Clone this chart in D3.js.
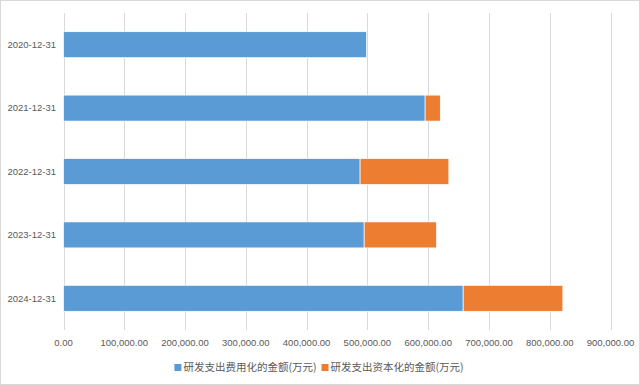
<!DOCTYPE html>
<html>
<head>
<meta charset="utf-8">
<script src="https://cdn.jsdelivr.net/npm/d3@7"></script>
<style>
body { margin: 0; background: #fff; }
svg { display: block; }
</style>
</head>
<body>
<script>
var width = 640, height = 385;

// data
var dates = ["2020-12-31", "2021-12-31", "2022-12-31", "2023-12-31", "2024-12-31"];
var expensed = [498700, 595000, 488000, 494700, 657600];
var capitalized = [0, 25000, 146000, 119000, 164000];
var seriesNames = ["研发支出费用化的金额(万元)", "研发支出资本化的金额(万元)"];
var xTicks = [0, 100000, 200000, 300000, 400000, 500000, 600000, 700000, 800000, 900000];
var colors = ["#5B9BD5", "#ED7D31"];

var svg = d3.select("body").append("svg").attr("width", width).attr("height", height);

// chart frame
svg.append("rect").attr("x", 0.5).attr("y", 0.5).attr("width", width - 1).attr("height", height - 1)
    .attr("fill", "#fff").attr("stroke", "#d9d9d9");

var scaleX = d3.scaleLinear().domain([0, 900000]).range([63.5, 610.5]);
var scaleY = d3.scaleBand().domain(dates).range([13, 330]).paddingInner(0.59).paddingOuter(0.295);

// gridlines
svg.append("g").selectAll("line").data(xTicks).enter().append("line")
    .attr("x1", function(d){ return Math.round(scaleX(d)) + 0.5; })
    .attr("x2", function(d){ return Math.round(scaleX(d)) + 0.5; })
    .attr("y1", 13).attr("y2", 330)
    .attr("stroke", "#d9d9d9").attr("stroke-width", 1);

// stacked bars
var rows = dates.map(function(d, i){ return {date: d, a: expensed[i], b: capitalized[i]}; });
var stack = d3.stack().keys(["a", "b"])(rows);

svg.append("g").selectAll("g").data(stack).enter().append("g")
    .attr("fill", function(d, i){ return colors[i]; })
    .selectAll("rect").data(function(d){ return d; }).enter().append("rect")
    .attr("x", function(d){ return scaleX(d[0]); })
    .attr("y", function(d){ return scaleY(d.data.date); })
    .attr("width", function(d){ return Math.max(0, scaleX(d[1]) - scaleX(d[0])); })
    .attr("height", scaleY.bandwidth())
    .attr("stroke", "#fff").attr("stroke-width", function(d){ return d[1] > d[0] ? 0.7 : 0; });

// y axis labels
svg.append("g").selectAll("text").data(dates).enter().append("text")
    .attr("x", 56)
    .attr("y", function(d){ return scaleY(d) + scaleY.bandwidth() / 2; })
    .attr("dy", "0.35em")
    .attr("text-anchor", "end")
    .attr("font-family", "Liberation Sans, Arial, sans-serif")
    .attr("font-size", "9.5px")
    .attr("fill", "#595959")
    .text(function(d){ return d; });

// x axis labels
var fmt = d3.format(",.2f");
svg.append("g").selectAll("text").data(xTicks).enter().append("text")
    .attr("x", function(d){ return scaleX(d); })
    .attr("y", 343)
    .attr("dy", "0.35em")
    .attr("text-anchor", "middle")
    .attr("font-family", "Liberation Sans, Arial, sans-serif")
    .attr("font-size", "9.5px")
    .attr("fill", "#595959")
    .text(function(d){ return fmt(d); });

// legend, laid out from measured text widths and centred
var legend = svg.append("g").attr("font-family", "Noto Sans CJK SC, sans-serif").attr("font-size", "10.5px");
var cursor = 0;
seriesNames.forEach(function(name, i){
    legend.append("rect").attr("x", cursor).attr("y", 364).attr("width", 7).attr("height", 7).attr("fill", colors[i]);
    var t = legend.append("text").attr("x", cursor + 9).attr("y", 367.5).attr("dy", "0.35em")
        .attr("fill", "#595959").text(name);
    cursor += 9 + t.node().getComputedTextLength() + 5;
});
var legendW = cursor - 5;
legend.attr("transform", "translate(" + (319 - legendW / 2) + ",0)");
</script>
</body>
</html>
